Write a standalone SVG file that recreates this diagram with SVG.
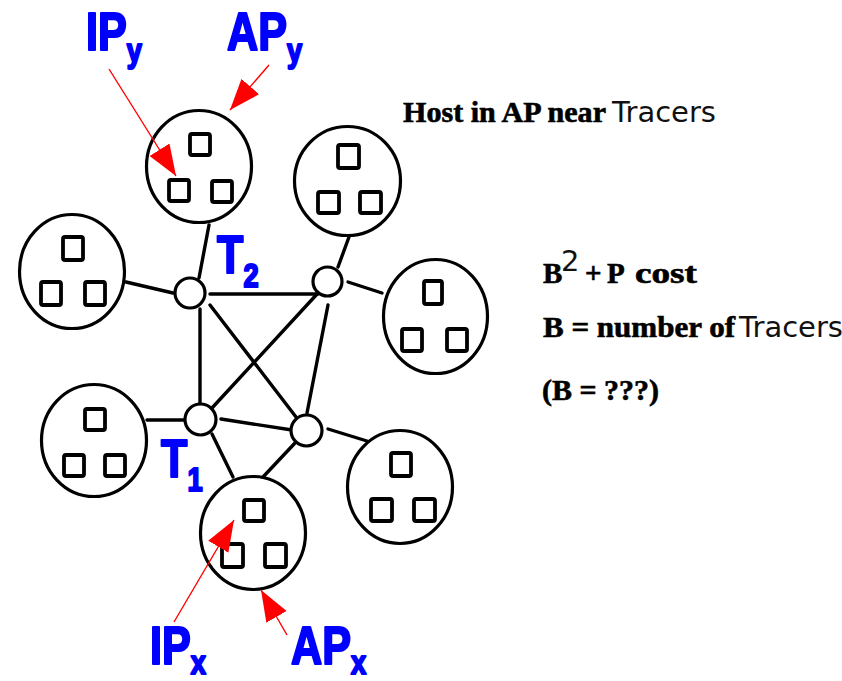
<svg xmlns="http://www.w3.org/2000/svg" width="842" height="681" viewBox="0 0 842 681">
  <style>
    .ap { fill: #fff; stroke: #000; stroke-width: 3.2; }
    .host { fill: #fff; stroke: #000; stroke-width: 3.8; }
    .tr { fill: #fff; stroke: #000; stroke-width: 3.2; }
    .edge { stroke: #000; stroke-width: 3.4; stroke-linecap: round; fill: none; }
    .ptr { stroke: #f00; stroke-width: 1.4; fill: none; }
    .lbl { font-family: "Liberation Sans", Arial, sans-serif; font-weight: bold; font-size: 54px; fill: #0000ff; stroke: #0000ff; stroke-width: 2.2; stroke-linejoin: round; }
    .sub { font-size: 34px; }
    .tb { font-family: "Liberation Serif", "Times New Roman", serif; font-weight: bold; font-size: 29px; fill: #000; stroke: #000; stroke-width: 0.6; }
    .ts { font-family: "DejaVu Sans", sans-serif; font-size: 29px; fill: #111; }
  </style>
  <defs>
    <marker id="redHead" markerUnits="userSpaceOnUse" markerWidth="32" markerHeight="24" refX="31" refY="11.7" orient="auto">
      <path d="M0,0 L31,11.7 L0,23.4 Z" fill="#f00"/>
    </marker>
  </defs>

  <!-- links between access points and tracers -->
  <g id="connectors">
    <line class="edge" x1="126" y1="282" x2="173" y2="293"/>
    <line class="edge" x1="209" y1="225" x2="199" y2="278"/>
    <line class="edge" x1="210" y1="294" x2="318" y2="294"/>
    <line class="edge" x1="200" y1="309" x2="200" y2="403"/>
    <line class="edge" x1="210" y1="305" x2="296" y2="417"/>
    <line class="edge" x1="318" y1="293" x2="212" y2="408"/>
    <line class="edge" x1="328" y1="305" x2="307" y2="413"/>
    <line class="edge" x1="349" y1="237" x2="338" y2="267"/>
    <line class="edge" x1="348" y1="282" x2="382" y2="293"/>
    <line class="edge" x1="147" y1="420" x2="184" y2="420"/>
    <line class="edge" x1="221" y1="419" x2="292" y2="430"/>
    <line class="edge" x1="212" y1="434" x2="233" y2="477"/>
    <line class="edge" x1="295" y1="443" x2="263" y2="477"/>
    <line class="edge" x1="328" y1="429" x2="367" y2="441"/>
  </g>

  <!-- access points, each with three hosts -->
  <g id="ap-y">
    <ellipse class="ap" cx="199" cy="166.5" rx="52.5" ry="56"/>
    <rect class="host" x="190" y="134" width="20" height="21" rx="2"/>
    <rect class="host" x="169" y="180" width="20" height="21" rx="2"/>
    <rect class="host" x="212" y="181" width="20" height="21" rx="2"/>
  </g>
  <g id="ap-top-right">
    <ellipse class="ap" cx="347.5" cy="181" rx="53" ry="54.5"/>
    <rect class="host" x="338" y="145" width="21" height="23" rx="2"/>
    <rect class="host" x="318" y="192" width="21" height="21" rx="2"/>
    <rect class="host" x="360" y="192" width="21" height="21" rx="2"/>
  </g>
  <g id="ap-left">
    <ellipse class="ap" cx="72" cy="271.5" rx="52.5" ry="57"/>
    <rect class="host" x="63" y="237" width="20" height="23" rx="2"/>
    <rect class="host" x="41" y="282" width="20" height="23" rx="2"/>
    <rect class="host" x="85" y="282" width="20" height="23" rx="2"/>
  </g>
  <g id="ap-right">
    <ellipse class="ap" cx="435.5" cy="316.5" rx="52" ry="57"/>
    <rect class="host" x="424" y="281" width="18" height="23" rx="2"/>
    <rect class="host" x="402" y="329" width="20" height="22" rx="2"/>
    <rect class="host" x="447" y="329" width="20" height="22" rx="2"/>
  </g>
  <g id="ap-lower-left">
    <ellipse class="ap" cx="94" cy="440.5" rx="52.5" ry="56"/>
    <rect class="host" x="85" y="409" width="20" height="21" rx="2"/>
    <rect class="host" x="64" y="455" width="20" height="21" rx="2"/>
    <rect class="host" x="105" y="455" width="20" height="21" rx="2"/>
  </g>
  <g id="ap-x">
    <ellipse class="ap" cx="253" cy="533" rx="52.5" ry="56.5"/>
    <rect class="host" x="244" y="500" width="20" height="21" rx="2"/>
    <rect class="host" x="222" y="544" width="21" height="23" rx="2"/>
    <rect class="host" x="265" y="544" width="21" height="23" rx="2"/>
  </g>
  <g id="ap-lower-right">
    <ellipse class="ap" cx="400" cy="487" rx="52.5" ry="56.5"/>
    <rect class="host" x="391" y="453" width="20" height="23" rx="2"/>
    <rect class="host" x="371" y="499" width="21" height="22" rx="2"/>
    <rect class="host" x="414" y="499" width="21" height="22" rx="2"/>
  </g>

  <!-- tracer routers -->
  <g id="tracer-2"><circle class="tr" cx="190" cy="293" r="15"/></g>
  <g id="tracer-ne"><circle class="tr" cx="327.5" cy="281.5" r="14.5"/></g>
  <g id="tracer-1"><circle class="tr" cx="200.5" cy="419.5" r="15.5"/></g>
  <g id="tracer-se"><circle class="tr" cx="306.5" cy="430.5" r="15.5"/></g>

  <!-- red pointers -->
  <g id="pointers">
    <line class="ptr" x1="109" y1="69" x2="176" y2="176" marker-end="url(#redHead)"/>
    <line class="ptr" x1="269" y1="65" x2="230" y2="110" marker-end="url(#redHead)"/>
    <line class="ptr" x1="174" y1="622" x2="234" y2="520" marker-end="url(#redHead)"/>
    <line class="ptr" x1="287" y1="635" x2="261" y2="590" marker-end="url(#redHead)"/>
  </g>

  <!-- blue labels -->
  <g id="labels">
    <text class="lbl" transform="translate(86,50) scale(0.8,1)">IP<tspan class="sub" dy="12">y</tspan></text>
    <text class="lbl" transform="translate(227,50) scale(0.8,1)">AP<tspan class="sub" dy="12">y</tspan></text>
    <text class="lbl" transform="translate(150,664) scale(0.8,1)">IP<tspan class="sub" dy="10">x</tspan></text>
    <text class="lbl" transform="translate(291,664) scale(0.8,1)">AP<tspan class="sub" dy="10">x</tspan></text>
    <text class="lbl" transform="translate(217,273) scale(0.8,1)">T<tspan class="sub" dy="14">2</tspan></text>
    <text class="lbl" transform="translate(161,477) scale(0.8,1)">T<tspan class="sub" dy="14">1</tspan></text>
  </g>

  <!-- notes -->
  <g id="notes">
    <text class="tb" x="403" y="122" textLength="203" lengthAdjust="spacingAndGlyphs">Host in AP near</text>
    <text class="ts" x="612" y="122">Tracers</text>
    <text class="tb" x="543" y="283">B</text>
    <text class="ts" x="561" y="271" font-size="21">2</text>
    <text class="tb" x="585" y="283">+</text>
    <text class="tb" x="607" y="283">P</text>
    <text class="tb" x="635" y="283" textLength="62" lengthAdjust="spacingAndGlyphs">cost</text>
    <text class="tb" x="543" y="337" textLength="192" lengthAdjust="spacingAndGlyphs">B = number of</text>
    <text class="ts" x="739" y="337" font-size="26">Tracers</text>
    <text class="tb" x="542" y="400" textLength="117" lengthAdjust="spacingAndGlyphs">(B = ???)</text>
  </g>
</svg>
